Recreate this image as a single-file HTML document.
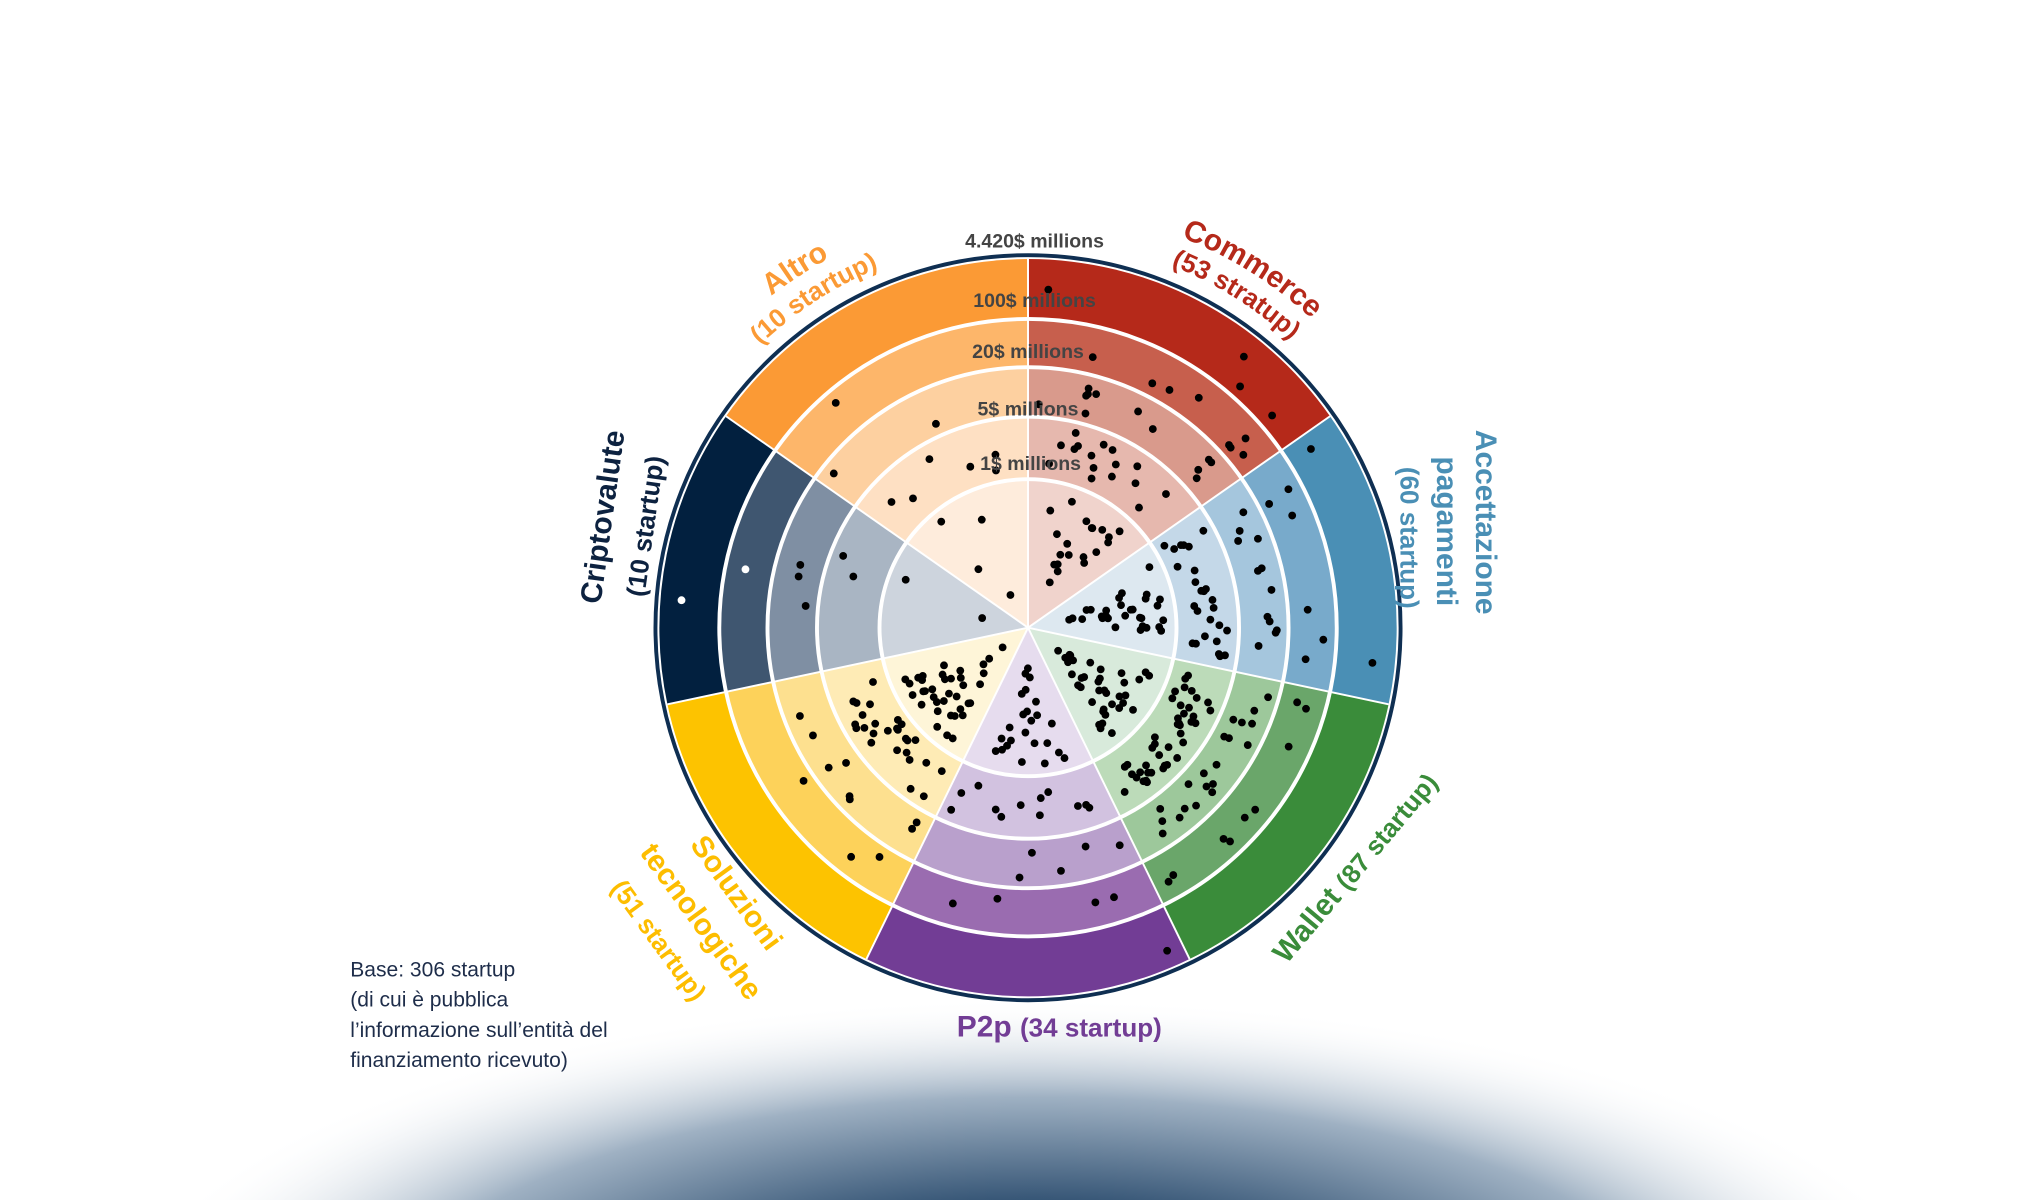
<!DOCTYPE html>
<html><head><meta charset="utf-8">
<style>
html,body{margin:0;padding:0;background:#fff;}
svg{display:block;}
text{font-family:"Liberation Sans",sans-serif;}
</style></head>
<body>
<svg id="s" width="2040" height="1200" viewBox="0 0 1550 912" xmlns="http://www.w3.org/2000/svg">
<defs>
<radialGradient id="bg" cx="785" cy="1010" r="700" gradientUnits="userSpaceOnUse" gradientTransform="translate(785 1010) scale(1 0.36) translate(-785 -1010)">
<stop offset="0" stop-color="#12304f"/>
<stop offset="0.35" stop-color="#2a4b6d"/>
<stop offset="0.7" stop-color="#9fb1c3"/>
<stop offset="1" stop-color="#ffffff" stop-opacity="0"/>
</radialGradient>
</defs>
<rect x="0" y="700" width="1550" height="212" fill="url(#bg)"/>
<g transform="translate(790 482) scale(0.99) translate(-796 -487)">
<g id="wedges"></g>
<g id="rings" fill="none" stroke="#fff" stroke-width="3"></g>
<g id="dots"></g>
<circle cx="787" cy="482" r="286" fill="none" stroke="#0f2f52" stroke-width="3"/>
<path id="pAltro1" fill="none"/><path id="pAltro2" fill="none"/>
<path id="pCom1" fill="none"/><path id="pCom2" fill="none"/>
<g font-weight="bold" fill="#444" font-size="15" text-anchor="middle">
<text x="792" y="190">4.420$ millions</text>
<text x="792" y="236">100$ millions</text>
<text x="787" y="275">20$ millions</text>
<text x="787" y="319">5$ millions</text>
<text x="789" y="361">1$ millions</text>
</g>
<g font-weight="bold" font-size="23">
<text fill="#fb9a35"><textPath href="#pAltro1" startOffset="50%" text-anchor="middle">Altro</textPath></text>
<text fill="#fb9a35" font-size="20"><textPath href="#pAltro2" startOffset="50%" text-anchor="middle">(10 startup)</textPath></text>
<text fill="#b5291a"><textPath href="#pCom1" startOffset="50%" text-anchor="middle">Commerce</textPath></text>
<text fill="#b5291a" font-size="20"><textPath href="#pCom2" startOffset="50%" text-anchor="middle">(53 stratup)</textPath></text>
<text fill="#3a8c3a" text-anchor="middle" transform="translate(1044 671) rotate(-50)">Wallet <tspan font-size="20">(87 startup)</tspan></text>
<g fill="#fdbd00" text-anchor="middle">
<text transform="translate(557 690) rotate(54)">Soluzioni</text>
<text transform="translate(530 712) rotate(54)">tecnologiche</text>
<text transform="translate(498 726) rotate(54)" font-size="20">(51 startup)</text>
</g>
<g fill="#4a8fb5" text-anchor="middle">
<text transform="translate(1131 401) rotate(90)">Accettazione</text>
<text transform="translate(1101 408) rotate(90)">pagamenti</text>
<text transform="translate(1073 413) rotate(90)" font-size="20">(60 startup)</text>
</g>
<g fill="#0d2240" text-anchor="middle">
<text transform="translate(468 398) rotate(-82)">Criptovalute</text>
<text transform="translate(500 405) rotate(-82)" font-size="20">(10 startup)</text>
</g>
<text x="811" y="796" fill="#723d95" text-anchor="middle">P2p <tspan font-size="20">(34 startup)</tspan></text>
</g>
</g>
<g font-family="'Liberation Sans Narrow','Liberation Sans',sans-serif" font-size="16" fill="#1e2d4a">
<text x="266" y="742">Base: 306 startup</text>
<text x="266" y="765">(di cui  è pubblica</text>
<text x="266" y="788">l’informazione sull’entità del</text>
<text x="266" y="811">finanziamento ricevuto)</text>
</g>
</svg>
<script>
(function(){
var cx=787,cy=482,R=[0,114,162,200,237,283];
function P(a,r){var t=a*Math.PI/180;return [cx+r*Math.sin(t),cy-r*Math.cos(t)];}
var secs=[
 [0,55,["#f0d3cc","#e6b8ae","#d99a8c","#c75f4d","#b5291a"],[20,16,12,8,4]],
 [55,102,["#dde8f0","#c4d8e8","#a5c6dd","#78aacb","#4a8fb5"],[30,26,12,6,2]],
 [102,154,["#d8eadb","#bcdbb9","#9dc89b","#6aa66a","#3a8c3a"],[38,42,20,9,0]],
 [154,206,["#e6dcee","#d2c2e0","#b9a0cc","#9a6cb0","#723d95"],[24,12,5,4,1]],
 [206,258,["#fef5d8","#feebb5","#fde08f","#fdd25a","#fdc300"],[38,26,8,3,0]],
 [258,305,["#cdd4dd","#a9b5c3","#7f8fa3","#3f5670","#02203f"],[2,2,3,1,1]],
 [305,360,["#feecdc","#fee0c3","#fdd0a0","#fdb66a","#fb9a35"],[4,6,2,1,0]]];
var w='',d='',seed=7;
function rnd(){seed=(seed*16807)%2147483647;return seed/2147483647;}
secs.forEach(function(s,si){
 for(var k=4;k>=0;k--){
  var r=R[k+1];var a=P(s[0],r),b=P(s[1],r);
  w+='<path d="M'+cx+' '+cy+'L'+a[0]+' '+a[1]+'A'+r+' '+r+' 0 0 1 '+b[0]+' '+b[1]+'Z" fill="'+s[2][k]+'"/>';
 }
 for(var k=0;k<5;k++){
  for(var n=0;n<s[3][k];n++){
   var r=R[k]+8+rnd()*(R[k+1]-R[k]-16);
   if(k==0) r=18+Math.sqrt(rnd())*(R[1]-26);
   var margin=(k==0?14:8)/Math.max(r,30)*180/Math.PI;
   var a=s[0]+margin+rnd()*(s[1]-s[0]-2*margin);
   var p=P(a,r);
   var col=(si==5&&k>=3)?'#fff':'#000';
   d+='<circle cx="'+p[0].toFixed(1)+'" cy="'+p[1].toFixed(1)+'" r="3" fill="'+col+'"/>';
  }
 }
});
document.getElementById('wedges').innerHTML=w;
document.getElementById('dots').innerHTML=d;
var rg='';for(var k=1;k<5;k++)rg+='<circle cx="'+cx+'" cy="'+cy+'" r="'+R[k]+'"/>';
[0,55,102,154,206,258,305].forEach(function(a){var p=P(a,283);rg+='<line x1="'+cx+'" y1="'+cy+'" x2="'+p[0]+'" y2="'+p[1]+'" stroke-width="1.5"/>';});
document.getElementById('rings').innerHTML=rg;
function cw(id,a1,a2,r){var a=P(a1,r),b=P(a2,r);document.getElementById(id).setAttribute('d','M'+a[0]+' '+a[1]+'A'+r+' '+r+' 0 0 1 '+b[0]+' '+b[1]);}
cw('pAltro1',294,360,322);cw('pAltro2',294,360,299);
cw('pCom1',-1,65,322);cw('pCom2',-1,65,299);
})();
</script>
</body></html>
